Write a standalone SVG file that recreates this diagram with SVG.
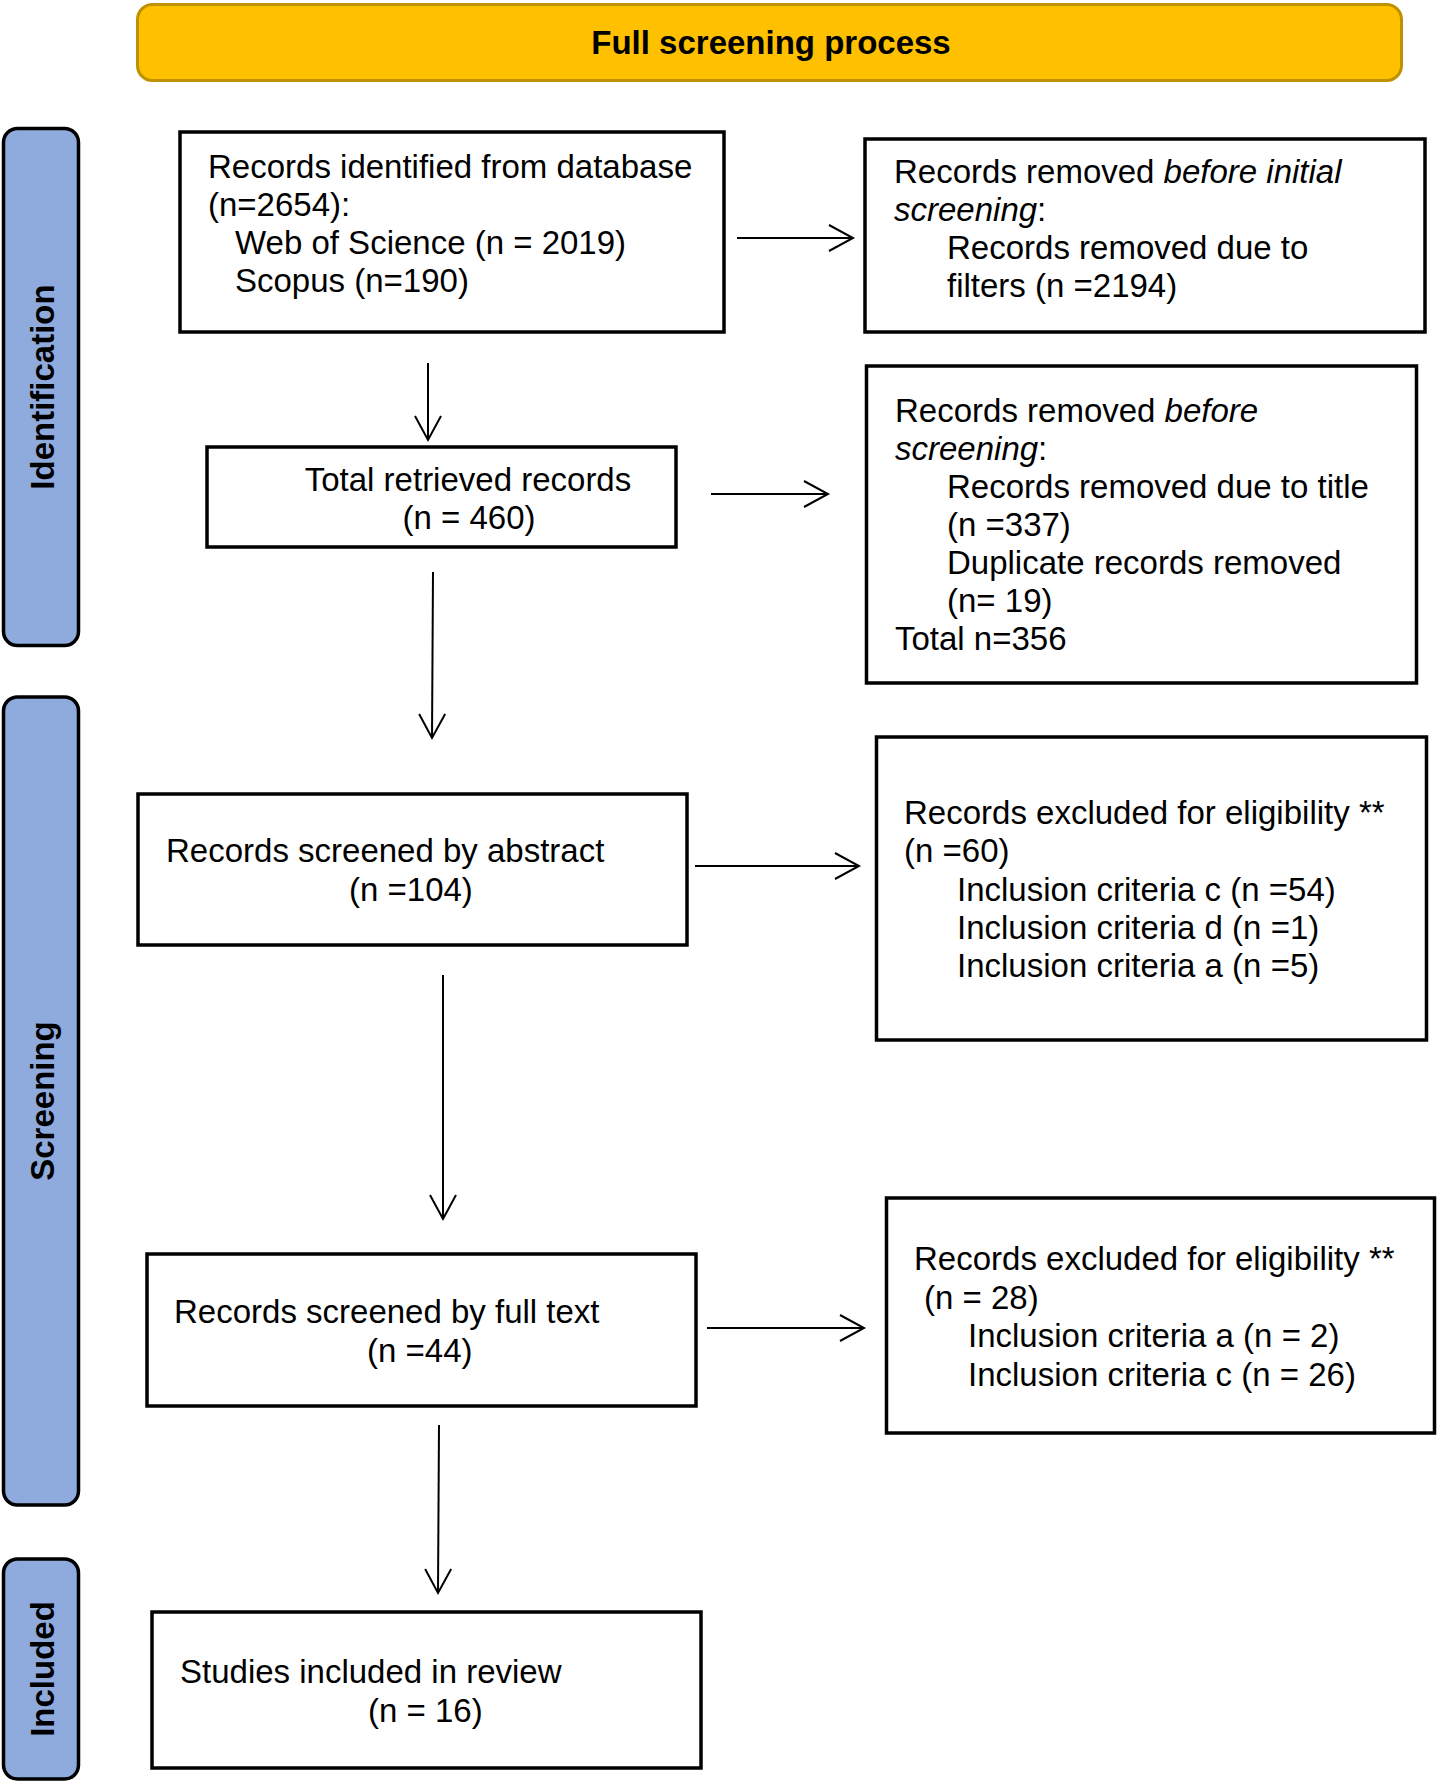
<svg xmlns="http://www.w3.org/2000/svg" width="1442" height="1783" viewBox="0 0 1442 1783">
<style>
.box{fill:#fff;stroke:#000;stroke-width:3.5}
.bar{fill:#8FAADC;stroke:#000;stroke-width:3.5}
.t{font-family:"Liberation Sans",Arial,sans-serif;font-size:33px;fill:#000}
.side{font-family:"Liberation Sans",Arial,sans-serif;font-size:33px;font-weight:bold;fill:#000;text-anchor:middle}
.it{font-style:italic}
.conn line{stroke:#000;stroke-width:2;fill:none}
</style>
<defs>
<marker id="arr" viewBox="-27 -16 30 32" refX="0" refY="0" markerWidth="30" markerHeight="32" orient="auto" markerUnits="userSpaceOnUse">
<path d="M-24,-13 L0,0 L-24,13" fill="none" stroke="#000" stroke-width="2"/>
</marker>
</defs>
<rect width="1442" height="1783" fill="#fff"/>

<g id="header">
<rect x="137.5" y="4.5" width="1264" height="76" rx="15" fill="#FFC000" stroke="#BF9000" stroke-width="3"/>
<text x="771" y="54" class="t" font-weight="bold" text-anchor="middle">Full screening process</text>
</g>

<g id="bar-identification">
<rect x="3.5" y="128.5" width="75" height="517" rx="14" class="bar"/>
<text class="side" transform="translate(54,387) rotate(-90)">Identification</text>
</g>
<g id="bar-screening">
<rect x="3.5" y="697" width="75" height="808" rx="14" class="bar"/>
<text class="side" transform="translate(54,1101) rotate(-90)">Screening</text>
</g>
<g id="bar-included">
<rect x="3.5" y="1559" width="75" height="220" rx="14" class="bar"/>
<text class="side" transform="translate(54,1669) rotate(-90)">Included</text>
</g>

<g id="n-identified">
<rect x="180" y="132" width="544" height="200" class="box"/>
<text class="t" x="208" y="178">Records identified from database</text>
<text class="t" x="208" y="216">(n=2654):</text>
<text class="t" x="235" y="254">Web of Science (n = 2019)</text>
<text class="t" x="235" y="292">Scopus (n=190)</text>
</g>

<g id="n-removed-initial">
<rect x="865" y="139" width="560" height="193" class="box"/>
<text class="t" x="894" y="183">Records removed <tspan class="it">before initial</tspan></text>
<text class="t" x="894" y="221"><tspan class="it">screening</tspan>:</text>
<text class="t" x="947" y="259">Records removed due to</text>
<text class="t" x="947" y="297">filters (n =2194)</text>
</g>

<g id="n-total-retrieved">
<rect x="207" y="447" width="469" height="100" class="box"/>
<text class="t" x="468" y="491" text-anchor="middle">Total retrieved records</text>
<text class="t" x="469" y="529" text-anchor="middle">(n = 460)</text>
</g>

<g id="n-removed-before">
<rect x="866.5" y="366" width="550" height="317" class="box"/>
<text class="t" x="895" y="422">Records removed <tspan class="it">before</tspan></text>
<text class="t" x="895" y="460"><tspan class="it">screening</tspan>:</text>
<text class="t" x="947" y="498">Records removed due to title</text>
<text class="t" x="947" y="536">(n =337)</text>
<text class="t" x="947" y="574">Duplicate records removed</text>
<text class="t" x="947" y="612">(n= 19)</text>
<text class="t" x="895" y="650">Total n=356</text>
</g>

<g id="n-abstract">
<rect x="138" y="794" width="549" height="151" class="box"/>
<text class="t" x="166" y="862">Records screened by abstract</text>
<text class="t" x="349" y="901">(n =104)</text>
</g>

<g id="n-excluded-1">
<rect x="876.5" y="737" width="550" height="303" class="box"/>
<text class="t" x="904" y="824">Records excluded for eligibility **</text>
<text class="t" x="904" y="862">(n =60)</text>
<text class="t" x="957" y="901">Inclusion criteria c (n =54)</text>
<text class="t" x="957" y="939">Inclusion criteria d (n =1)</text>
<text class="t" x="957" y="977">Inclusion criteria a (n =5)</text>
</g>

<g id="n-fulltext">
<rect x="147" y="1254" width="549" height="152" class="box"/>
<text class="t" x="174" y="1323">Records screened by full text</text>
<text class="t" x="367" y="1362">(n =44)</text>
</g>

<g id="n-excluded-2">
<rect x="886.5" y="1198" width="548" height="235" class="box"/>
<text class="t" x="914" y="1270">Records excluded for eligibility **</text>
<text class="t" x="924" y="1309">(n = 28)</text>
<text class="t" x="968" y="1347">Inclusion criteria a (n = 2)</text>
<text class="t" x="968" y="1386">Inclusion criteria c (n = 26)</text>
</g>

<g id="n-included">
<rect x="152" y="1612" width="549" height="156" class="box"/>
<text class="t" x="180" y="1683">Studies included in review</text>
<text class="t" x="368" y="1722">(n = 16)</text>
</g>

<g id="connectors" class="conn">
<line x1="737" y1="238" x2="853" y2="238" marker-end="url(#arr)"/>
<line x1="428" y1="363" x2="428" y2="440" marker-end="url(#arr)"/>
<line x1="711" y1="494" x2="828" y2="494" marker-end="url(#arr)"/>
<line x1="433" y1="572" x2="432" y2="738" marker-end="url(#arr)"/>
<line x1="695" y1="866" x2="859" y2="866" marker-end="url(#arr)"/>
<line x1="443" y1="975" x2="443" y2="1219" marker-end="url(#arr)"/>
<line x1="707" y1="1328" x2="864" y2="1328" marker-end="url(#arr)"/>
<line x1="439" y1="1425" x2="438" y2="1593" marker-end="url(#arr)"/>
</g>
</svg>
